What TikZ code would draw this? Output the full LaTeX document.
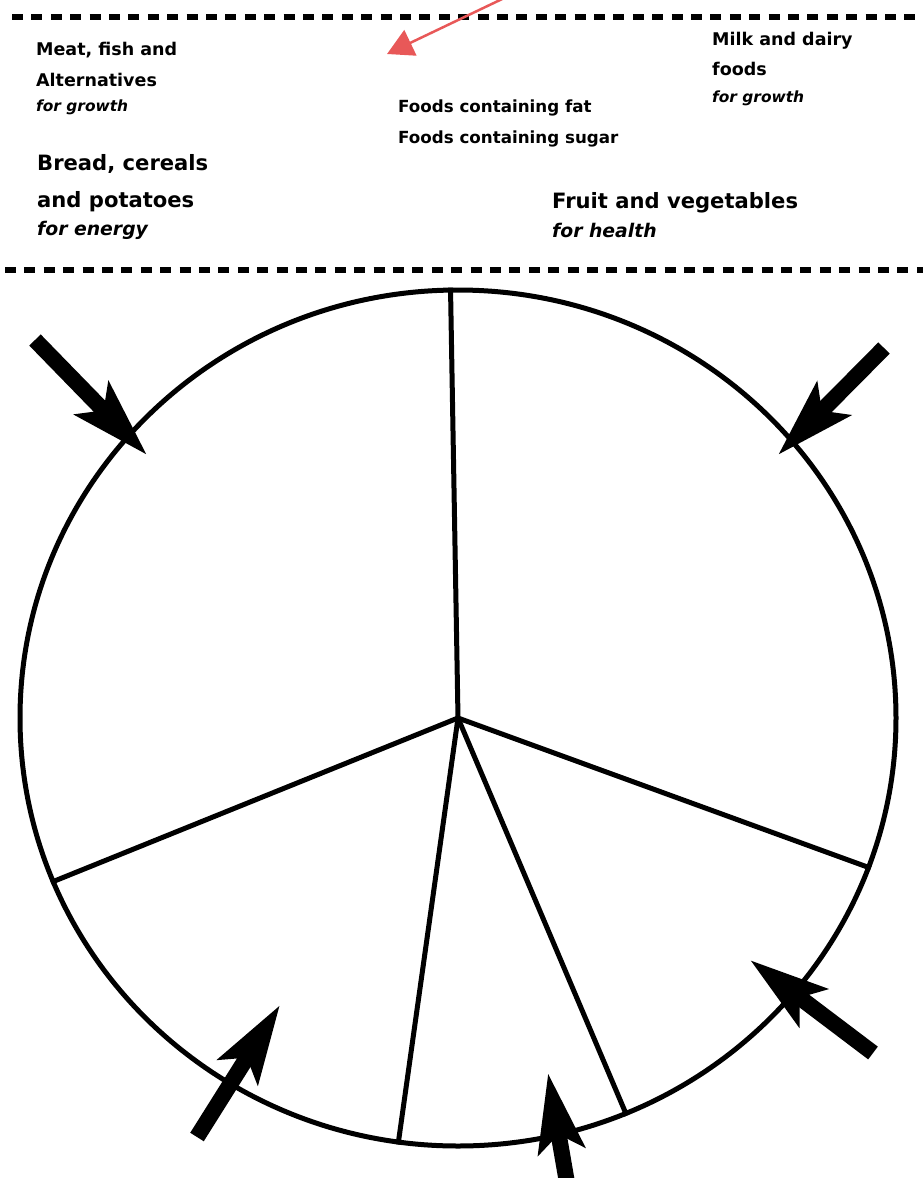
\documentclass[tikz,border=0pt]{standalone}
\usepackage{fontspec}
\setmainfont{DejaVu Sans}
\usepackage{xcolor}
\usetikzlibrary{arrows.meta,positioning,shapes.geometric}
\definecolor{hintred}{RGB}{232,88,88}
\tikzset{
  lbl/.style={anchor=base west, inner sep=0pt, font=\fontsize{17.5}{20}\selectfont\bfseries},
  lblmid/.style={lbl, font=\fontsize{16.7}{20}\selectfont\bfseries},
  lblbig/.style={lbl, font=\fontsize{21.1}{25}\selectfont\bfseries},
  lblsub/.style={lbl, font=\fontsize{15.4}{18}\selectfont\bfseries\itshape},
  lblsubbig/.style={lbl, font=\fontsize{18.8}{22}\selectfont\bfseries\itshape},
  rule/.style={line width=5.5pt, dash pattern=on 11pt off 8.4pt},
  rim/.style={draw, ellipse, line width=5pt, minimum width=876pt,
    minimum height=856pt, inner sep=0pt},
  spoke/.style={line width=5pt},
  pointer/.style={line width=16pt, -{Stealth[length=78pt,width=46pt,inset=16pt]}},
  hint/.style={draw=hintred, line width=2.5pt, -{Triangle[length=26pt,width=28pt]}}
}

\begin{document}
\begin{tikzpicture}[x=1pt, y=-1pt]
  \useasboundingbox (0,0) rectangle (923,1178);

  % key strip between the two dashed rules
  \draw[rule] (12,17) -- (923,17);
  \draw[rule] (5,270) -- (923,270);

  \coordinate (hintTail) at (521,-10);
  \coordinate (hintTip) at (387,54);
  \draw[hint] (hintTail) -- (hintTip);

  \node[lbl] (meatA) at (36,55) {Meat, fish and};
  \node[lbl, below=31pt of meatA.base west, anchor=base west] (meatB) {Alternatives};
  \node[lblsub, below=25pt of meatB.base west, anchor=base west] (meatC) {for growth};

  \node[lblbig] (breadA) at (37,170) {Bread, cereals};
  \node[lblbig, below=37pt of breadA.base west, anchor=base west] (breadB) {and potatoes};
  \node[lblsubbig, below=28pt of breadB.base west, anchor=base west] (breadC) {for energy};

  \node[lblmid] (fatA) at (398,112) {Foods containing fat};
  \node[lblmid, below=31pt of fatA.base west, anchor=base west] (fatB) {Foods containing sugar};

  \node[lbl] (milkA) at (712,45) {Milk and dairy};
  \node[lbl, below=30pt of milkA.base west, anchor=base west] (milkB) {foods};
  \node[lblsub, below=27pt of milkB.base west, anchor=base west] (milkC) {for growth};

  \node[lblbig] (fruitA) at (552,208) {Fruit and vegetables};
  \node[lblsubbig, below=29pt of fruitA.base west, anchor=base west] (fruitB) {for health};

  % the plate
  \node[rim] (plate) at (458,718) {};
  \draw[spoke] (plate.center) -- (plate.91);
  \draw[spoke] (plate.center) -- (plate.-20);
  \draw[spoke] (plate.center) -- (plate.-67);
  \draw[spoke] (plate.center) -- (plate.-98);
  \draw[spoke] (plate.center) -- (plate.202);

  % pointers onto the plate
  \coordinate (ulTail) at (35,340);   \coordinate (ulTip) at (147,455);
  \coordinate (urTail) at (884,348);  \coordinate (urTip) at (778,455);
  \coordinate (lrTail) at (873,1053); \coordinate (lrTip) at (750,960);
  \coordinate (llTail) at (197,1137); \coordinate (llTip) at (280,1005);
  \coordinate (btTail) at (570,1200); \coordinate (btTip) at (548,1073);
  \draw[pointer] (ulTail) -- (ulTip);
  \draw[pointer] (urTail) -- (urTip);
  \draw[pointer] (lrTail) -- (lrTip);
  \draw[pointer] (llTail) -- (llTip);
  \draw[pointer] (btTail) -- (btTip);
\end{tikzpicture}
\end{document}
